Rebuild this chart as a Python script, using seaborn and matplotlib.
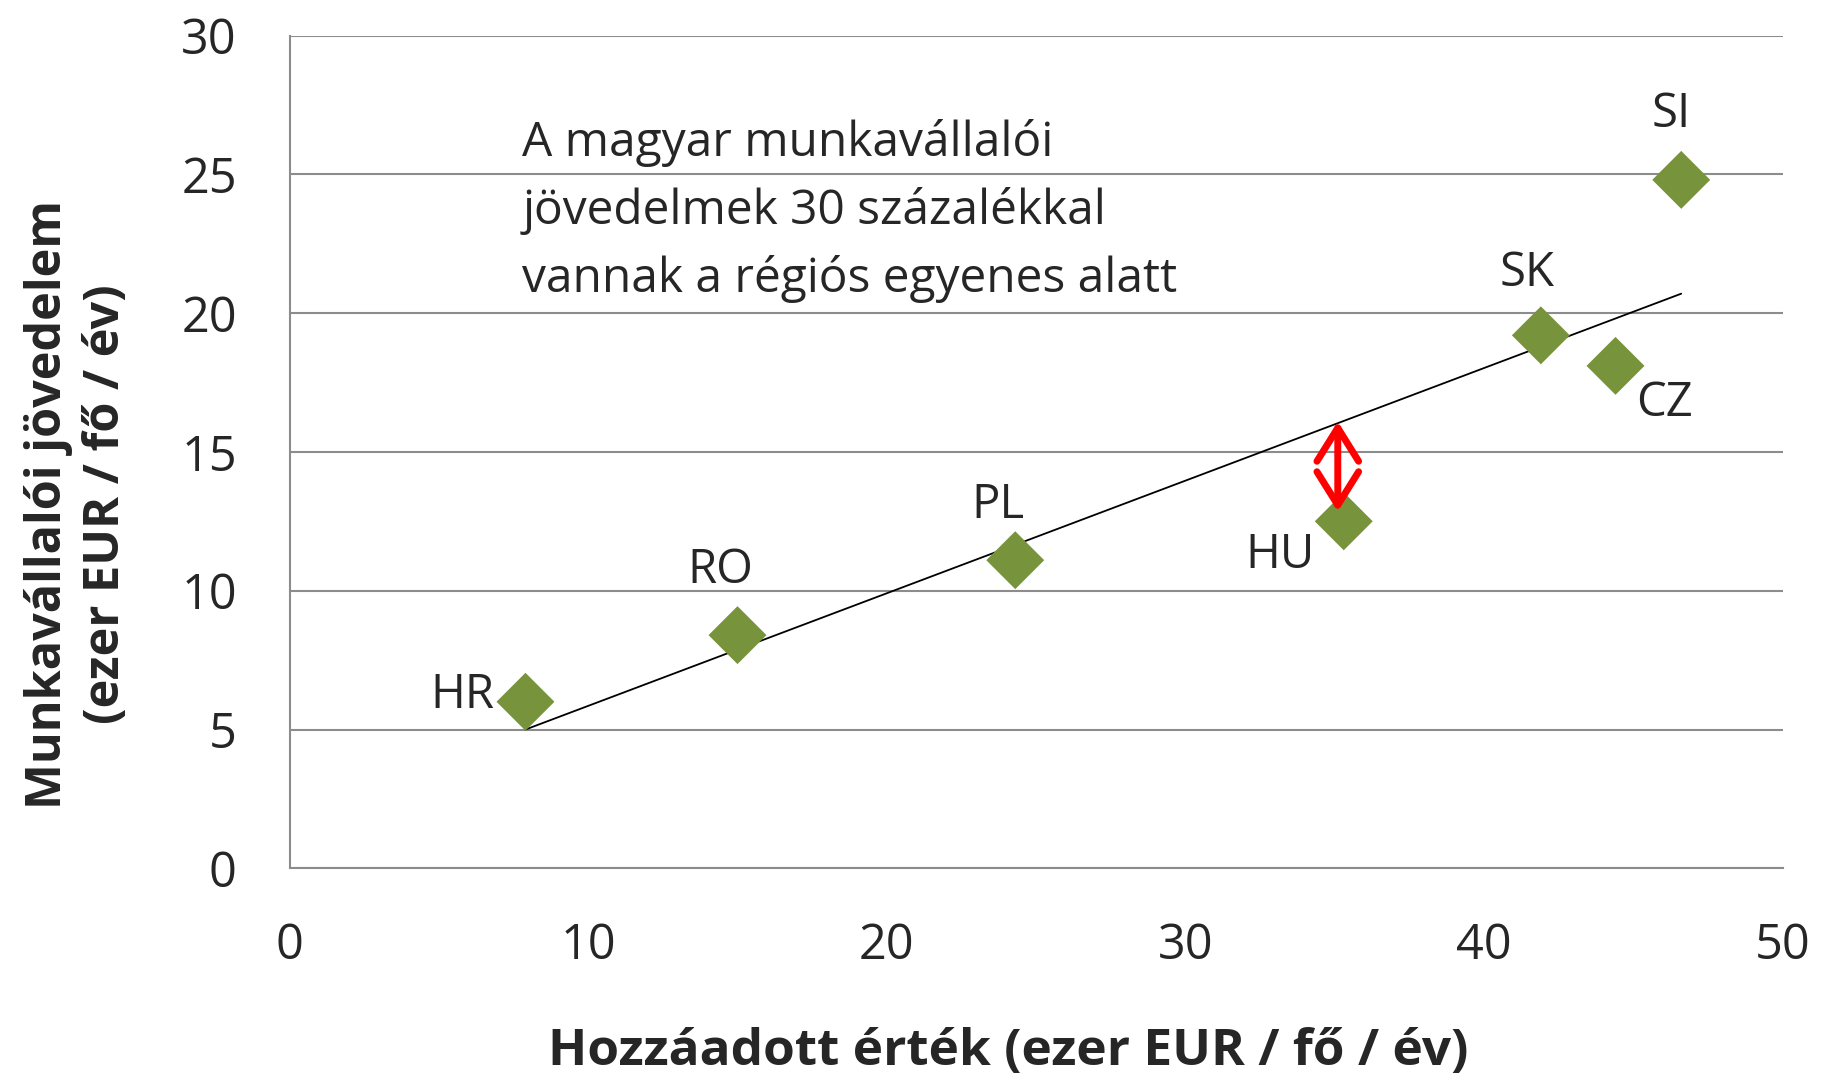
import numpy as np
import pandas as pd
import matplotlib
matplotlib.use("Agg")
import matplotlib.pyplot as plt
import seaborn as sns

# dati
paesi = ['HR', 'RO', 'PL', 'HU', 'SK', 'CZ', 'SI']
valore_aggiunto = [7.9, 15.0, 24.3, 35.3, 41.9, 44.4, 46.6]
reddito = [6.0, 8.4, 11.1, 12.5, 19.2, 18.1, 24.8]

trend_x = [7.9, 46.6]
trend_y = [5.0, 20.7]

freccia_x = 35.1
freccia_y = [16.1, 12.85]

# spostamento delle etichette (pixel)
offset = {'HR': (-63, 7), 'RO': (-17, 65), 'PL': (-17, 55), 'HU': (-64, -34),
          'SK': (-14, 62), 'CZ': (49, -37), 'SI': (-10, 66)}

df = pd.DataFrame({'paese': paesi, 'x': valore_aggiunto, 'y': reddito})

sns.set_style('white')
plt.rcParams['font.family'] = ['Open Sans', 'DejaVu Sans']

fig = plt.figure(figsize=(18.21, 10.76), dpi=100)
ax = fig.add_axes([0.159, 0.193, 0.82, 0.774])

ax.plot(trend_x, trend_y, color='black', lw=1.3, zorder=2)
sns.scatterplot(data=df, x='x', y='y', marker='D', s=870, color='#77933C',
                edgecolor='none', ax=ax, zorder=3)

for _, r in df.iterrows():
    ax.annotate(r['paese'], (r['x'], r['y']), xytext=offset[r['paese']],
                textcoords='offset pixels', ha='center', va='center', fontsize=34)

# freccia rossa tra HU e la retta
ax.annotate('', xy=(freccia_x, freccia_y[0]), xytext=(freccia_x, freccia_y[1]),
            arrowprops=dict(arrowstyle='<->,head_length=0.8,head_width=0.5', color='red', lw=5,
                            mutation_scale=30, shrinkA=0, shrinkB=0,
                            capstyle='round', joinstyle='round'), zorder=4)

ax.text(7.8, 27.0, 'A magyar munkavállalói\njövedelmek 30 százalékkal\nvannak a régiós egyenes alatt',
        ha='left', va='top', fontsize=34.5, linespacing=1.54)

ax.set_xlim(0, 50)
ax.set_ylim(0, 30)
ax.set_xticks(range(0, 51, 10))
ax.set_yticks(range(0, 31, 5))
ax.grid(axis='y', color='#8c8c8c', lw=1.5)
ax.set_axisbelow(True)
for s in ['top', 'right']:
    ax.spines[s].set_visible(False)
for s in ['left', 'bottom']:
    ax.spines[s].set_color('#8c8c8c')
    ax.spines[s].set_linewidth(1.5)
ax.tick_params(axis='both', labelsize=35, length=0, pad=38)

ax.set_xlabel('Hozzáadott érték (ezer EUR / fő / év)', fontsize=37, fontweight='bold')
ax.set_ylabel('Munkavállalói jövedelem\n(ezer EUR / fő / év)', fontsize=35, fontweight='bold',
              linespacing=1.25)
ax.xaxis.set_label_coords(0.481, -0.19)
ax.yaxis.set_label_coords(-0.106, 0.437)

plt.savefig('out.png', dpi=100)
